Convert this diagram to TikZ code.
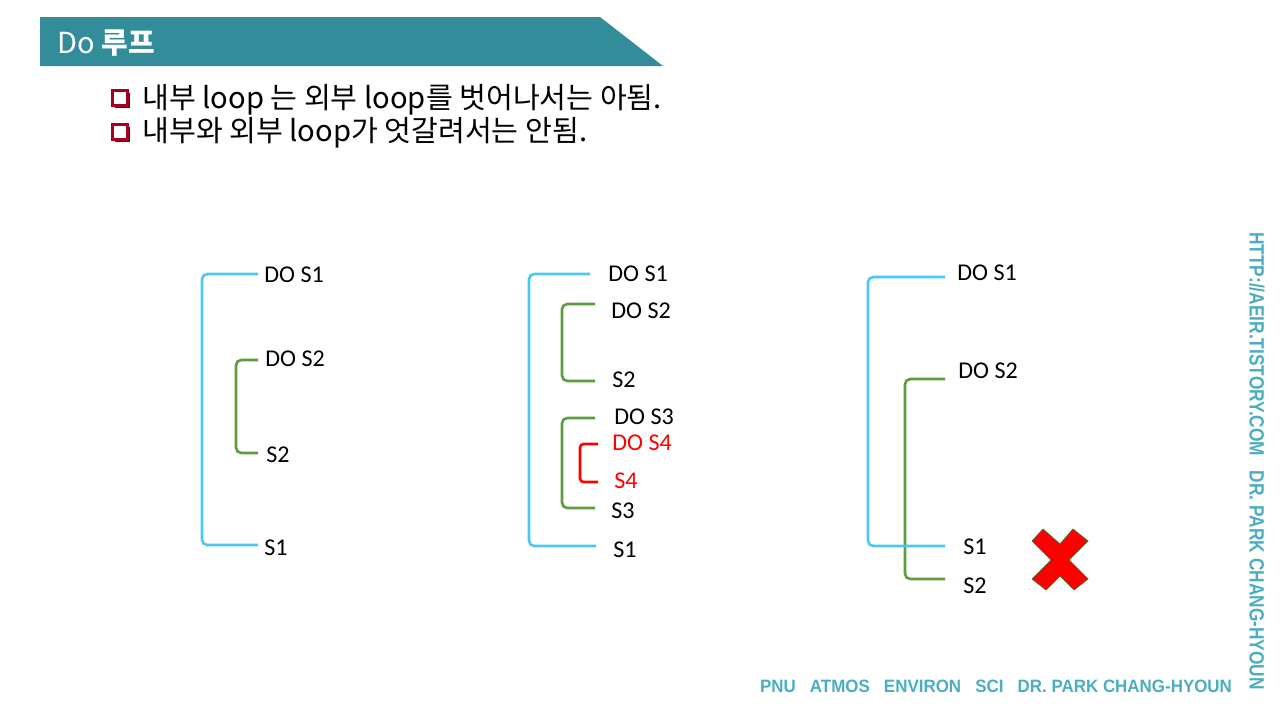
\documentclass[tikz,border=0pt]{standalone}
\usepackage{fontspec}
\usepackage{xcolor}
\usepackage{tikz}
\usetikzlibrary{shadows}
\setmainfont{Carlito}
\newfontfamily\kr{Noto Sans CJK KR}
\newfontfamily\deco{Liberation Sans}

\definecolor{barteal}{HTML}{338C99}
\definecolor{loopblue}{HTML}{4CC8F0}
\definecolor{loopgreen}{HTML}{5B9E3C}
\definecolor{boxred}{HTML}{A50021}
\definecolor{decoteal}{HTML}{4AAEBF}

\tikzset{
  lbl/.style={anchor=west, inner sep=0pt, font=\fontsize{13.7}{16}\selectfont},
  redlbl/.style={lbl, text=red},
  bullettext/.style={anchor=west, inner sep=0pt, font=\kr\fontsize{16.6}{19}\selectfont},
  chkbox/.style={rectangle, draw=boxred, fill=white, line width=1.6pt, minimum size=0.29cm,
    inner sep=0pt, drop shadow={shadow xshift=1.3pt, shadow yshift=-1.3pt, fill=boxred!55!black, opacity=1}},
  bluebr/.style={draw=loopblue, line width=1.5pt, rounded corners=3pt},
  greenbr/.style={draw=loopgreen, line width=1.5pt, rounded corners=3pt},
  redbr/.style={draw=red, line width=1.5pt, rounded corners=2pt}
}

\begin{document}
\begin{tikzpicture}[x=0.02cm, y=-0.02cm]
  \useasboundingbox (0,0) rectangle (1280,720);

  % Titulo
  \fill[barteal] (40,17) -- (600,17) -- (663,66) -- (40,66) -- cycle;
  \node[anchor=west, inner sep=0pt, text=white, font=\kr\fontsize{16.5}{19}\selectfont] (title) at (57,43) {Do \textbf{루프}};

  % Puntos
  \node[chkbox] (chk1) at (120,98) {};
  \node[chkbox] (chk2) at (120,132) {};
  \node[bullettext] (txt1) at (142,100) {내부 loop 는 외부 loop를 벗어나서는 아됨.};
  \node[bullettext] (txt2) at (142,133) {내부와 외부 loop가 엇갈려서는 안됨.};

  % Caso 1
  \node[lbl] (a1) at (264,275) {DO S1};
  \node[lbl] (a2) at (265,359) {DO S2};
  \node[lbl] (a3) at (266,455) {S2};
  \node[lbl] (a4) at (264,548) {S1};
  \coordinate (a1e) at (258,274);
  \coordinate (a4e) at (258,545);
  \coordinate (a2e) at (258,360);
  \coordinate (a3e) at (258,453);
  \draw[bluebr] (a1e) -- ++(-56,0) |- (a4e);
  \draw[greenbr] (a2e) -- ++(-22,0) |- (a3e);

  % Caso 2
  \node[lbl] (b1) at (608,274) {DO S1};
  \node[lbl] (b2) at (611,311) {DO S2};
  \node[lbl] (b3) at (612,380) {S2};
  \node[lbl] (b4) at (614,417) {DO S3};
  \node[redlbl] (b5) at (612,443) {DO S4};
  \node[redlbl] (b6) at (614,481) {S4};
  \node[lbl] (b7) at (611,511) {S3};
  \node[lbl] (b8) at (613,550) {S1};
  \coordinate (b1e) at (590,274);
  \coordinate (b8e) at (596,546);
  \coordinate (b2e) at (595,304);
  \coordinate (b3e) at (595,381);
  \coordinate (b4e) at (595,418);
  \coordinate (b7e) at (595,508);
  \coordinate (b5e) at (598,444);
  \coordinate (b6e) at (598,482);
  \draw[bluebr] (b1e) -- ++(-61,0) |- (b8e);
  \draw[greenbr] (b2e) -- ++(-33,0) |- (b3e);
  \draw[greenbr] (b4e) -- ++(-33,0) |- (b7e);
  \draw[redbr] (b5e) -- ++(-18,0) |- (b6e);

  % Caso 3 (mal)
  \node[lbl] (c1) at (957,273) {DO S1};
  \node[lbl] (c2) at (958,371) {DO S2};
  \node[lbl] (c3) at (963,547) {S1};
  \node[lbl] (c4) at (963,586) {S2};
  \coordinate (c1e) at (945,277);
  \coordinate (c3e) at (945,546);
  \coordinate (c2e) at (945,379);
  \coordinate (c4e) at (945,579);
  \draw[greenbr] (c2e) -- ++(-40,0) |- (c4e);
  \draw[bluebr] (c1e) -- ++(-77,0) |- (c3e);

  % Cruz
  \filldraw[fill=red, draw=loopgreen!70!black, line width=0.4pt, shift={(1060,560)}]
    (-28,-19) -- (-17,-31) -- (0,-16) -- (13,-31) -- (28,-19) -- (9,0) --
    (28,19) -- (14,30) -- (0,16) -- (-14,30) -- (-28,19) -- (-9,0) -- cycle;

  % Firmas
  \node[rotate=-90, inner sep=0pt, text=decoteal] (url) at (1257,461)
    {\resizebox{9.16cm}{0.3cm}{\deco\bfseries HTTP://AEIR.TISTORY.COM\ \ \ DR.\ PARK\ CHANG-HYOUN}};
  \node[inner sep=0pt, text=decoteal] (foot) at (996,686)
    {\resizebox{9.44cm}{0.25cm}{\deco\bfseries PNU\ \ \ ATMOS\ \ \ ENVIRON\ \ \ SCI\ \ \ DR.\ PARK\ CHANG-HYOUN}};
\end{tikzpicture}
\end{document}
